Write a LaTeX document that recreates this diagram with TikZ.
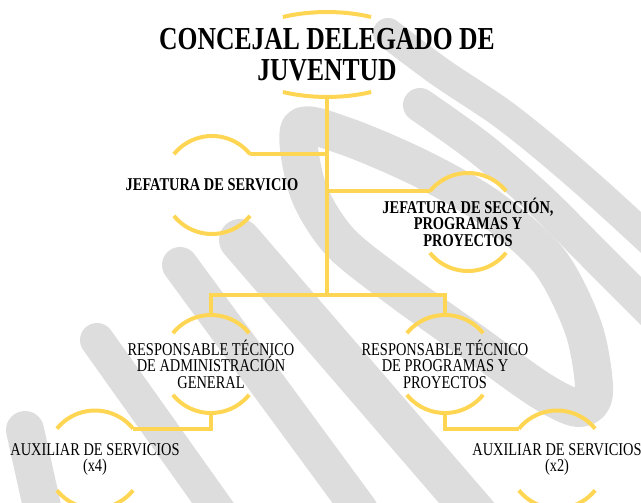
\documentclass[tikz,border=0pt]{standalone}
\usepackage{fontspec}
\setmainfont{Liberation Serif}[FakeStretch=0.8]
\usetikzlibrary{positioning,shapes.geometric,calc}
\pgfdeclarelayer{background}
\pgfsetlayers{background,main}
\definecolor{oro}{RGB}{255,214,84}
\definecolor{marca}{RGB}{221,221,221}
\tikzstyle{puesto}=[circle, minimum size=98pt, inner sep=0pt, outer sep=0pt]
\tikzstyle{cabeza}=[ellipse, minimum width=188pt, minimum height=85pt, inner sep=0pt, outer sep=0pt]
\tikzstyle{titulo}=[align=center, inner sep=0pt, font=\bfseries\fontsize{32}{31}\selectfont]
\tikzstyle{negrita}=[align=center, inner sep=0pt, font=\bfseries\fontsize{18}{16.5}\selectfont]
\tikzstyle{normal}=[align=center, inner sep=0pt, font=\fontsize{18}{16.5}\selectfont]
\tikzstyle{arco}=[draw=oro, line width=4pt]
\tikzstyle{line}=[draw=oro, line width=4pt]
\tikzstyle{trazo}=[draw=marca, line width=42pt, line cap=round, line join=round]
\newcommand{\puesto}[3]{node (p#1)[puesto, label={[#3]center:{#2}}]{}}
\newcommand{\arcos}[1]{%
	\draw[arco] (#1.39) arc[start angle=39, end angle=141, radius=49pt];
	\draw[arco] (#1.219) arc[start angle=219, end angle=321, radius=49pt];}
\begin{document}
\begin{tikzpicture}[x=1pt,y=-1pt]
		\useasboundingbox (0,0) rectangle (641,503);
		
		% Draw diagram elements
		\node (p1)[cabeza, label={[titulo]center:{CONCEJAL DELEGADO DE\\JUVENTUD}}] at (327,54.5) {};
		\path (p1)+(-115,130.5) \puesto{2}{JEFATURA DE SERVICIO}{negrita};
		\path (p1)+(141,167.5) \puesto{3}{JEFATURA DE SECCIÓN,\\PROGRAMAS Y\\PROYECTOS}{negrita};
		\path (p1)+(-116,309.5) \puesto{4}{RESPONSABLE TÉCNICO\\DE ADMINISTRACIÓN\\GENERAL}{normal};
		\path (p1)+(118,309.5) \puesto{5}{RESPONSABLE TÉCNICO\\DE PROGRAMAS Y\\PROYECTOS}{normal};
		\path (p4)+(-116,95.5) \puesto{6}{AUXILIAR DE SERVICIOS\\(x4)}{normal};
		\path (p5)+(112,95.5) \puesto{7}{AUXILIAR DE SERVICIOS\\(x2)}{normal};
		
		% Arcs round the nodes
		\draw[arco] ($(p1.center)+(44.1,-37.5)$) arc[start angle=62, end angle=118, x radius=94pt, y radius=42.5pt];
		\draw[arco] ($(p1.center)+(-44.1,37.5)$) arc[start angle=242, end angle=298, x radius=94pt, y radius=42.5pt];
		\arcos{p2} \arcos{p3} \arcos{p4} \arcos{p5} \arcos{p6} \arcos{p7}
		
		% Draw lines between elements
		\path (p1.south)+(0,198) coordinate (t1);
		\path [line] (p1.south) |- (p2.39);
		\path [line] (p1.south) |- (p3.141);
		\path [line] (p1.south) -- (t1);
		\path [line] (t1) -| (p4.north);
		\path [line] (t1) -| (p5.north);
		\path [line] (p4.south) |- (p6.39);
		\path [line] (p5.south) |- (p7.141);
		
		% Watermark
		\begin{pgfonlayer}{background}
			\clip (0,0) rectangle (641,503);
			\draw[trazo, line width=30pt] plot[smooth] coordinates {(388,33) (440,72) (500,112) (548,150) (600,195) (660,250)};
			\draw[trazo, line width=34pt] plot[smooth] coordinates {(420,105) (480,148) (540,200) (600,260) (660,320)};
			\draw[trazo, line width=38pt] plot[smooth cycle] coordinates {(300,128) (345,136) (420,168) (490,208) (550,262) (584,330) (594,393) (578,408) (540,390) (470,340) (400,290) (340,242) (308,190)};
			\draw[trazo] (240,240) -- (490,530);
			\draw[trazo, line width=36pt] (180,265) -- (360,510);
			\draw[trazo, line width=34pt] (97,340) -- (225,520);
			\draw[trazo, line width=38pt] (25,430) -- (45,520);
		\end{pgfonlayer}
		
\end{tikzpicture}
\end{document}
